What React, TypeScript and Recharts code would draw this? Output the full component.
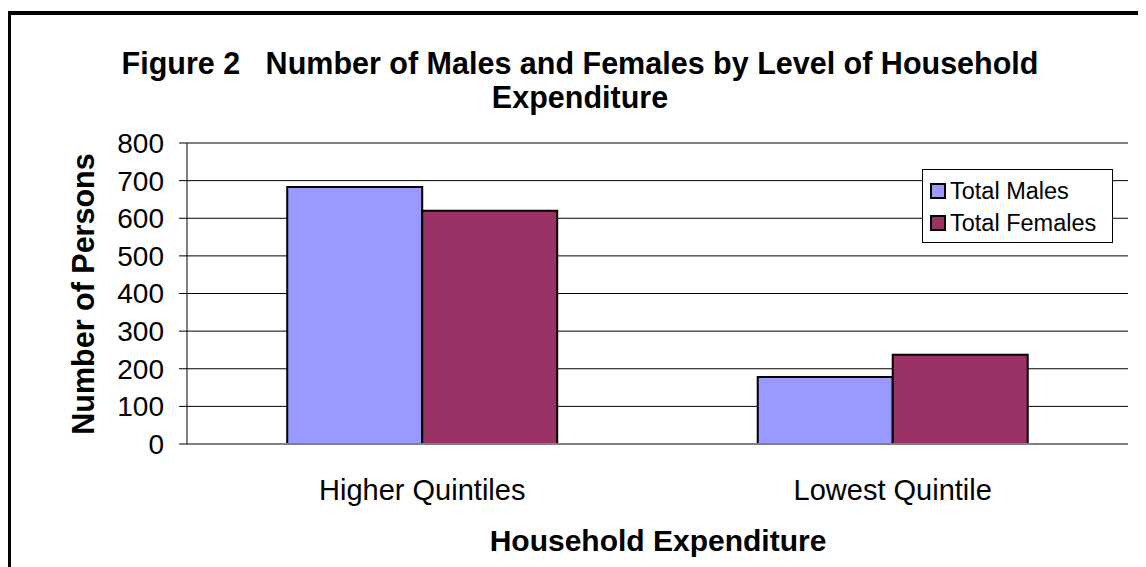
import React from 'react';
import { BarChart, Bar, XAxis, YAxis, CartesianGrid, Legend } from 'recharts';

const categories = ['Higher Quintiles', 'Lowest Quintile'];
const totalMales = [683, 178];
const totalFemales = [620, 237];
const yTicks = [0, 100, 200, 300, 400, 500, 600, 700, 800];

const seriesColors = { males: '#9999FF', females: '#993366' };
const FONT = "Arial, 'Liberation Sans', sans-serif";

const data = categories.map((cat, i) => ({
  cat,
  males: totalMales[i],
  females: totalFemales[i],
}));

function CategoryTick(props: any) {
  const { x, y, payload } = props;
  return (
    <text x={x} y={y + 56} textAnchor="middle" fontSize={29} fontFamily={FONT} fill="#000">
      {payload.value}
    </text>
  );
}

function LegendBox() {
  const items = [
    { label: 'Total Males', color: seriesColors.males },
    { label: 'Total Females', color: seriesColors.females },
  ];
  return (
    <div
      style={{
        border: '1px solid #000',
        background: '#fff',
        width: 191,
        height: 74,
        boxSizing: 'border-box',
        padding: '5px 0 0 7px',
        fontFamily: FONT,
        fontSize: 23.5,
      }}
    >
      {items.map((it) => (
        <div key={it.label} style={{ display: 'flex', alignItems: 'center', height: 32 }}>
          <span
            style={{
              display: 'inline-block',
              width: 16,
              height: 16,
              boxSizing: 'border-box',
              border: '2px solid #000',
              background: it.color,
              marginRight: 4,
            }}
          />
          <span>{it.label}</span>
        </div>
      ))}
    </div>
  );
}

export default function App() {
  return (
    <div style={{ position: 'relative', width: 1138, height: 559, overflow: 'hidden', background: '#fff' }}>
      <div
        style={{
          position: 'absolute',
          left: -1,
          top: 3,
          width: 1300,
          height: 800,
          border: '4px solid #000',
          boxSizing: 'border-box',
        }}
      />
      <div
        style={{
          position: 'absolute',
          left: 0,
          width: 1144,
          top: 38,
          textAlign: 'center',
          fontFamily: FONT,
          fontWeight: 'bold',
          fontSize: 30.5,
          lineHeight: '34px',
          whiteSpace: 'pre',
        }}
      >
        {'Figure 2   Number of Males and Females by Level of Household\nExpenditure'}
      </div>
      <div
        style={{
          position: 'absolute',
          left: 75 - 200,
          top: 286 - 17,
          width: 400,
          height: 34,
          lineHeight: '34px',
          textAlign: 'center',
          transform: 'rotate(-90deg)',
          fontFamily: FONT,
          fontWeight: 'bold',
          fontSize: 30.5,
        }}
      >
        Number of Persons
      </div>
      <div
        style={{
          position: 'absolute',
          left: 650 - 250,
          top: 516,
          width: 500,
          lineHeight: '34px',
          textAlign: 'center',
          fontFamily: FONT,
          fontWeight: 'bold',
          fontSize: 30,
        }}
      >
        Household Expenditure
      </div>
      <div style={{ position: 'absolute', left: 0, top: 0 }}>
        <BarChart
          width={1138}
          height={559}
          data={data}
          margin={{ top: 135, right: 18, left: 0, bottom: 23 }}
          barCategoryGap="21.3%"
          barGap={0}
        >
          <CartesianGrid xAxisId="cat" vertical={false} stroke="#000" strokeWidth={1} />
          <XAxis
            xAxisId="bounds"
            type="number"
            domain={[0, 2]}
            ticks={[0, 1, 2]}
            height={0}
            tick={false}
            axisLine={false}
            tickSize={8}
            tickLine={{ stroke: '#666', strokeWidth: 2 }}
          />
          <XAxis
            xAxisId="cat"
            dataKey="cat"
            height={100}
            tickLine={false}
            tickSize={0}
            tickMargin={0}
            tick={<CategoryTick />}
            axisLine={{ stroke: '#808080', strokeWidth: 2 }}
          />
          <YAxis
            width={179}
            domain={[0, 800]}
            ticks={yTicks}
            interval={0}
            tickSize={8}
            tickMargin={15}
            axisLine={{ stroke: '#000' }}
            tickLine={{ stroke: '#000' }}
            tick={{ fontSize: 28, fontFamily: FONT, fill: '#000' }}
          />
          <Legend
            layout="horizontal"
            verticalAlign="middle"
            align="center"
            wrapperStyle={{ top: 161, left: 914, width: 191 }}
            content={() => <LegendBox />}
          />
          <Bar xAxisId="cat" dataKey="males" name="Total Males" fill={seriesColors.males} stroke="#000" strokeWidth={2} isAnimationActive={false} />
          <Bar xAxisId="cat" dataKey="females" name="Total Females" fill={seriesColors.females} stroke="#000" strokeWidth={2} isAnimationActive={false} />
        </BarChart>
      </div>
    </div>
  );
}
